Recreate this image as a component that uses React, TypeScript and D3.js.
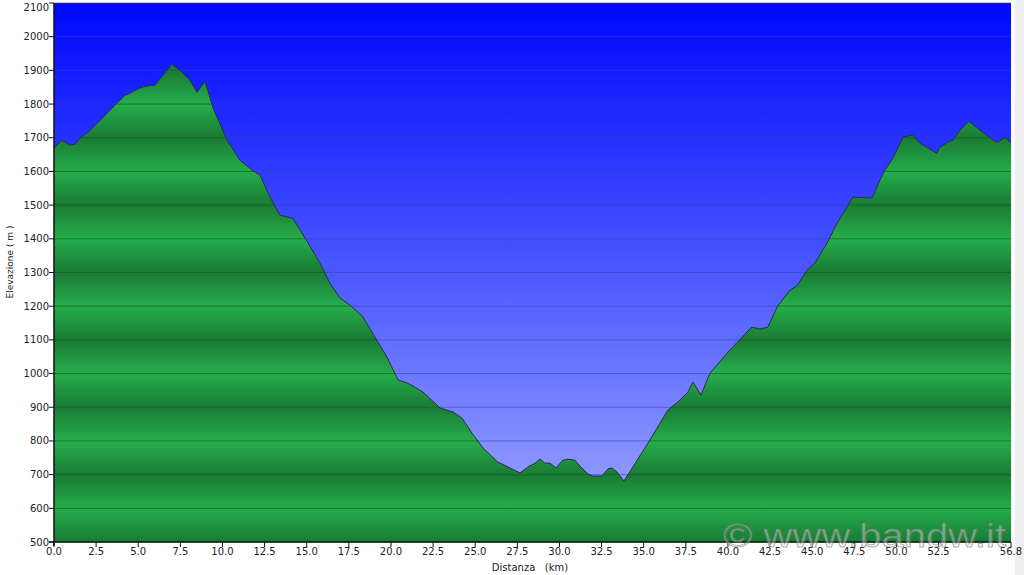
import React from "react";
import * as d3 from "d3";

const distances = [0, 0.47, 0.95, 1.25, 1.54, 2.14, 3.15, 3.44, 4.21, 4.51, 4.93, 5.4, 5.99, 6.47, 7.0, 7.48, 8.07, 8.49, 8.96, 9.44, 10.27, 11.04, 11.75, 12.23, 12.82, 13.41, 14.18, 14.9, 15.79, 16.38, 16.97, 17.57, 18.34, 19.05, 19.76, 20.42, 20.95, 21.42, 21.9, 22.91, 23.68, 24.21, 24.81, 25.46, 26.35, 27.06, 27.66, 28.13, 28.55, 28.84, 29.14, 29.44, 29.79, 30.21, 30.5, 30.92, 31.22, 31.69, 31.99, 32.52, 32.88, 33.12, 33.41, 33.83, 34.36, 35.37, 36.44, 37.15, 37.63, 37.92, 38.4, 38.93, 40.12, 41.42, 41.9, 42.37, 42.91, 43.68, 44.09, 44.69, 45.16, 45.88, 46.47, 47.42, 48.55, 49.02, 49.32, 49.79, 50.39, 50.98, 51.39, 52.4, 52.58, 53.06, 53.35, 53.77, 54.3, 55.13, 55.73, 56.02, 56.44, 56.8];
const elevations = [1669, 1693, 1678, 1681, 1699, 1722, 1773, 1788, 1826, 1832, 1844, 1853, 1856, 1886, 1918, 1900, 1871, 1835, 1868, 1788, 1693, 1633, 1604, 1589, 1524, 1470, 1461, 1402, 1328, 1268, 1224, 1203, 1168, 1108, 1049, 981, 972, 960, 945, 898, 886, 868, 823, 779, 737, 720, 705, 723, 734, 746, 734, 734, 720, 743, 746, 743, 725, 702, 696, 696, 717, 720, 708, 681, 723, 803, 892, 921, 945, 975, 936, 1001, 1070, 1138, 1132, 1138, 1197, 1248, 1260, 1307, 1328, 1387, 1446, 1524, 1521, 1574, 1604, 1639, 1702, 1708, 1684, 1654, 1672, 1687, 1693, 1722, 1749, 1716, 1693, 1687, 1702, 1684];

const xTickValues = [0, 2.5, 5, 7.5, 10, 12.5, 15, 17.5, 20, 22.5, 25, 27.5, 30, 32.5, 35, 37.5, 40, 42.5, 45, 47.5, 50, 52.5, 56.8];
const yTickValues = d3.range(500, 2101, 100);

const xTitle = "Distanza   (km)";
const yTitle = "Elevazione ( m )";
const watermark = "© www.bandw.it";

export default function App() {
  const W = 1024, H = 575;
  const left = 54, right = 1011, top = 3, bottom = 542;
  const x = d3.scaleLinear().domain([0, 56.8]).range([left, right]);
  const y = d3.scaleLinear().domain([500, 2100]).range([bottom, top]);
  const pts = distances.map((d, i) => [d, elevations[i]] as [number, number]);
  const area = d3.area<[number, number]>().x(d => x(d[0])).y0(bottom).y1(d => y(d[1]));
  const line = d3.line<[number, number]>().x(d => x(d[0])).y(d => y(d[1]));
  const areaPath = area(pts) || "";
  const linePath = line(pts) || "";

  const stops: { off: number; color: string }[] = [];
  const dark = "#1a7a35", mid = "#1f9440", light = "#26ae4c";
  for (let v = 500; v <= 2100; v += 100) {
    const odd = (v / 100) % 2 === 1;
    const off = (v - 500) / 1600;
    stops.push({ off, color: odd ? dark : light });
    if (v < 2100) {
      stops.push({ off: (v + 50 - 500) / 1600, color: mid });
    }
  }

  return (
    <svg width={W} height={H} style={{ position: "absolute", left: 0, top: 0, display: "block" }}
      fontFamily="'DejaVu Sans', Verdana, sans-serif">
      <defs>
        <linearGradient id="sky" gradientUnits="userSpaceOnUse" x1={0} y1={top} x2={0} y2={bottom}>
          <stop offset="0" stopColor="#0008ff" />
          <stop offset="0.45" stopColor="#4450ff" />
          <stop offset="1" stopColor="#a2abff" />
        </linearGradient>
        <linearGradient id="green" gradientUnits="userSpaceOnUse" x1={0} y1={bottom} x2={0} y2={top}>
          {stops.map((s, i) => (
            <stop key={i} offset={s.off} stopColor={s.color} />
          ))}
        </linearGradient>
        <clipPath id="areaClip">
          <path d={areaPath} />
        </clipPath>
      </defs>
      <rect x={0} y={0} width={W} height={H} fill="#ffffff" />
      <rect x={1015} y={0} width={9} height={H} fill="#eeeeee" />
      <rect x={left} y={top} width={right - left} height={bottom - top} fill="url(#sky)" />
      {yTickValues.map(v => (
        <line key={"gs" + v} x1={left} x2={right} y1={y(v)} y2={y(v)} stroke="#3440b8" strokeOpacity={0.55} strokeWidth={1} />
      ))}
      <path d={areaPath} fill="url(#green)" />
      <g clipPath="url(#areaClip)">
        {yTickValues.map(v => (
          <line key={"gg" + v} x1={left} x2={right} y1={y(v)} y2={y(v)} stroke="#146428" strokeOpacity={0.8} strokeWidth={1} />
        ))}
      </g>
      <path d={linePath} fill="none" stroke="#1c3a26" strokeWidth={1} />
      <line x1={left} x2={left} y1={top} y2={bottom + 4} stroke="#111" strokeWidth={1.5} />
      <line x1={left - 5} x2={right} y1={bottom} y2={bottom} stroke="#111" strokeWidth={1.5} />
      {yTickValues.map(v => (
        <g key={"yt" + v}>
          <line x1={left - 5} x2={left} y1={y(v)} y2={y(v)} stroke="#111" />
          <text x={left - 5} y={Math.max(y(v) + 3.5, 11)} textAnchor="end" fontSize={10} fill="#222">{v}</text>
        </g>
      ))}
      {xTickValues.map(v => (
        <g key={"xt" + v}>
          <line x1={x(v)} x2={x(v)} y1={bottom} y2={bottom + 5} stroke="#111" />
          <text x={x(v)} y={bottom + 13} textAnchor="middle" fontSize={10} fill="#222">{v.toFixed(1)}</text>
        </g>
      ))}
      <text x={530} y={571} textAnchor="middle" fontSize={10} fill="#222" style={{ whiteSpace: "pre" }}>{xTitle}</text>
      <text transform={`translate(13, 262) rotate(-90)`} textAnchor="middle" fontSize={9} fill="#222" style={{ whiteSpace: "pre" }}>{yTitle}</text>
      <text x={723} y={547} fontSize={33} fontFamily="'Liberation Sans', Arial, sans-serif"
        textLength={283} lengthAdjust="spacingAndGlyphs"
        fill="#ffffff" fillOpacity={0.35} stroke="#6a6a6a" strokeOpacity={0.55} strokeWidth={1}>{watermark}</text>
    </svg>
  );
}
